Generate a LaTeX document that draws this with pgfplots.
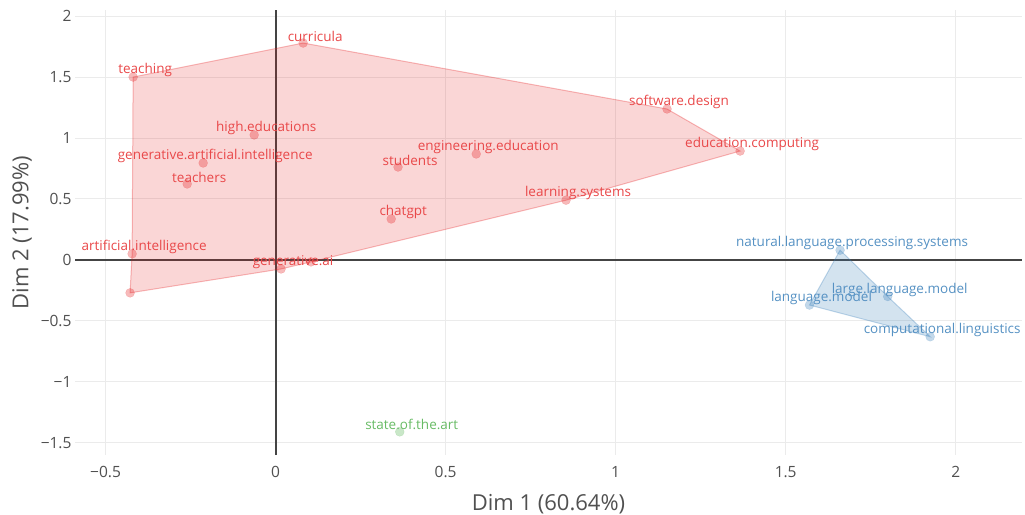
\documentclass[border=0pt]{standalone}
\usepackage{fontspec}
\setmainfont{Open Sans}
\usepackage{pgfplots}
\pgfplotsset{compat=1.18}
\usepackage{pgfplotstable}

\definecolor{cRed}{HTML}{E41A1C}
\definecolor{cBlue}{HTML}{377EB8}
\definecolor{cGreen}{HTML}{4DAF4A}
\definecolor{gridc}{HTML}{EBEBEB}
\definecolor{zeroc}{HTML}{444444}
\definecolor{tickc}{HTML}{505050}

% Cluster 1 (red): word coordinates on the first two dimensions
\pgfplotstableread{
x      y      label
0.081  1.779  curricula
-0.419 1.500  teaching
-0.063 1.025  high.educations
-0.213 0.795  generative.artificial.intelligence
-0.260 0.623  teachers
0.360  0.762  students
0.590  0.869  engineering.education
0.340  0.336  chatgpt
0.854  0.490  learning.systems
1.151  1.238  software.design
1.366  0.893  education.computing
-0.422 0.050  artificial.intelligence
0.016  -0.074 generative.ai
}\clusterRed

% Cluster 2 (blue)
\pgfplotstableread{
x      y      label
1.660  0.080  natural.language.processing.systems
1.800  -0.300 large.language.model
1.570  -0.370 language.model
1.925  -0.630 computational.linguistics
}\clusterBlue

% Cluster 3 (green)
\pgfplotstableread{
x      y      label
0.365  -1.410 state.of.the.art
}\clusterGreen

\begin{document}
\begin{tikzpicture}
\path[use as bounding box] (0pt,0pt) rectangle (1025pt,514pt);
\begin{axis}[
  at={(75pt,59pt)}, anchor=south west,
  scale only axis, width=947pt, height=445pt,
  xmin=-0.59, xmax=2.195, ymin=-1.6, ymax=2.05,
  xtick={-0.5,0,0.5,1,1.5,2},
  ytick={-1.5,-1,-0.5,0,0.5,1,1.5,2},
  xticklabels={−0.5,0,0.5,1,1.5,2},
  yticklabels={−1.5,−1,−0.5,0,0.5,1,1.5,2},
  grid=major, grid style={gridc, line width=1pt},
  axis line style={draw=none},
  major tick length=0pt,
  tick label style={font=\fontsize{15.5}{17}\selectfont, text=tickc},
  xticklabel style={yshift=-8pt},
  yticklabel style={xshift=0pt},
  xlabel={Dim 1 (60.64\%)},
  ylabel={Dim 2 (17.99\%)},
  label style={font=\fontsize{22}{25}\selectfont, text=tickc},
  xlabel style={at={(axis description cs:0.5,0)}, anchor=center, yshift=-49pt},
  ylabel style={at={(axis description cs:0,0.5)}, anchor=center, yshift=53pt},
  clip=false,
  every node near coord/.append style={
    anchor=center, xshift=12pt, yshift=7pt,
    font=\fontsize{13.5}{15}\selectfont, opacity=1, fill opacity=1},
]

% zero lines
\addplot[zeroc, line width=2pt] coordinates {(-0.59,0) (2.195,0)};
\addplot[zeroc, line width=2pt] coordinates {(0,-1.6) (0,2.05)};

% convex hulls of the clusters
\addplot[draw=cRed, draw opacity=0.3, line width=1pt, fill=cRed, fill opacity=0.18]
  coordinates {(-0.419,1.500) (0.081,1.779) (1.151,1.238) (1.366,0.893)
               (0.854,0.490) (0.104,-0.016) (0.016,-0.074) (-0.428,-0.270)
               (-0.422,0.050)} -- cycle;
\addplot[draw=cBlue, draw opacity=0.3, line width=1pt, fill=cBlue, fill opacity=0.22]
  coordinates {(1.660,0.080) (1.800,-0.300) (1.925,-0.630) (1.570,-0.370)} -- cycle;

% points without a label
\addplot[only marks, mark=*, mark size=4.5pt,
  mark options={fill=cRed, fill opacity=0.3, draw=cRed, draw opacity=0.2}]
  coordinates {(-0.428,-0.270) (0.104,-0.016)};

% labelled points
\addplot[only marks, mark=*, mark size=4.5pt,
  mark options={fill=cRed, fill opacity=0.3, draw=cRed, draw opacity=0.2},
  point meta=explicit symbolic, nodes near coords,
  every node near coord/.append style={text=cRed!80!white}]
  table[x=x, y=y, meta=label] {\clusterRed};
\addplot[only marks, mark=*, mark size=4.5pt,
  mark options={fill=cBlue, fill opacity=0.3, draw=cBlue, draw opacity=0.2},
  point meta=explicit symbolic, nodes near coords,
  every node near coord/.append style={text=cBlue!85!white}]
  table[x=x, y=y, meta=label] {\clusterBlue};
\addplot[only marks, mark=*, mark size=4.5pt,
  mark options={fill=cGreen, fill opacity=0.3, draw=cGreen, draw opacity=0.2},
  point meta=explicit symbolic, nodes near coords,
  every node near coord/.append style={text=cGreen!85!white}]
  table[x=x, y=y, meta=label] {\clusterGreen};
\end{axis}
\end{tikzpicture}
\end{document}
